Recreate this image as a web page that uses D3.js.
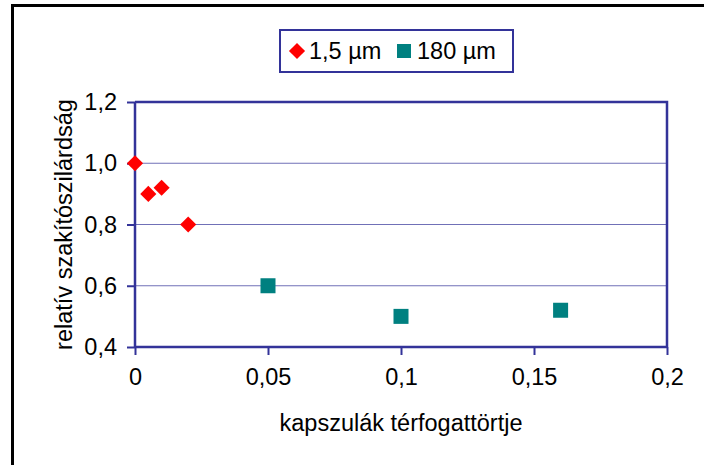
<!DOCTYPE html>
<meta charset="utf-8">
<style>
    body { margin: 0; background: #fff; }
    text { font-family: "Liberation Sans", Arial, sans-serif; fill: #000; }
</style>
<body>
<script src="https://d3js.org/d3.v7.min.js"></script>
<script>

// data
var fineX = [0, 0.005, 0.01, 0.02];
var fineY = [1.0, 0.9, 0.92, 0.8];
var coarseX = [0.05, 0.1, 0.16];
var coarseY = [0.6, 0.5, 0.52];
var seriesNames = ['1,5 µm', '180 µm'];
var xTicks = [0, 0.05, 0.1, 0.15, 0.2];
var yTicks = [0.4, 0.6, 0.8, 1.0, 1.2];
var xTitle = 'kapszulák térfogattörtje';
var yTitle = 'relatív szakítószilárdság';

var W = 704, H = 465;
var plot = {left: 135, right: 667, top: 102, bottom: 347};
var axisColor = '#333399';
var fontSize = 23.5;

var fmt = function(d) { return String(d).replace('.', ','); };
var fmtY = function(d) { return d3.format('.1f')(d).replace('.', ','); };

var svg = d3.select('body').append('svg')
    .attr('width', W)
    .attr('height', H);

// outer chart border (cut off on right and bottom)
svg.append('rect')
    .attr('x', 12.5).attr('y', 5.5)
    .attr('width', 720).attr('height', 480)
    .attr('fill', '#fff')
    .attr('stroke', '#000')
    .attr('stroke-width', 3);

var x = d3.scaleLinear().domain([0, 0.2]).range([plot.left, plot.right]);
var y = d3.scaleLinear().domain([0.4, 1.2]).range([plot.bottom, plot.top]);

// gridlines
svg.append('g')
    .selectAll('line')
    .data(yTicks.filter(function(d) { return d > 0.4 && d < 1.2; }))
    .enter().append('line')
    .attr('x1', plot.left).attr('x2', plot.right)
    .attr('y1', function(d) { return y(d); })
    .attr('y2', function(d) { return y(d); })
    .attr('stroke', axisColor)
    .attr('stroke-opacity', 0.7)
    .attr('stroke-width', 1.2);

// top and right edges of the plot area
svg.append('path')
    .attr('d', 'M' + plot.left + ',' + y(1.2) + 'H' + plot.right + 'V' + plot.bottom)
    .attr('fill', 'none')
    .attr('stroke', axisColor)
    .attr('stroke-width', 2.5);

// x axis
var xAxis = d3.axisBottom(x).tickValues(xTicks).tickSize(8).tickPadding(13).tickFormat(fmt);
var gx = svg.append('g')
    .attr('transform', 'translate(0,' + plot.bottom + ')')
    .call(xAxis);
gx.select('.domain').attr('stroke', axisColor).attr('stroke-width', 2.5)
    .attr('d', 'M' + plot.left + ',0H' + plot.right);
gx.selectAll('.tick line').attr('stroke', axisColor).attr('stroke-width', 2);
gx.selectAll('.tick text')
    .style('font-size', fontSize + 'px')
    .style('font-family', '"Liberation Sans", Arial, sans-serif')
    .attr('fill', '#000');

// y axis
var yAxis = d3.axisLeft(y).tickValues(yTicks).tickSize(8).tickPadding(10).tickFormat(fmtY);
var gy = svg.append('g')
    .attr('transform', 'translate(' + plot.left + ',0)')
    .call(yAxis);
gy.select('.domain').attr('stroke', axisColor).attr('stroke-width', 2.5)
    .attr('d', 'M0,' + plot.top + 'V' + plot.bottom);
gy.selectAll('.tick line').attr('stroke', axisColor).attr('stroke-width', 2);
gy.selectAll('.tick text')
    .style('font-size', fontSize + 'px')
    .style('font-family', '"Liberation Sans", Arial, sans-serif')
    .attr('fill', '#000');

// axis titles
svg.append('text')
    .attr('x', (plot.left + plot.right) / 2)
    .attr('y', 431)
    .attr('text-anchor', 'middle')
    .style('font-size', fontSize + 'px')
    .text(xTitle);

svg.append('text')
    .attr('transform', 'translate(72,' + (plot.top + plot.bottom) / 2 + ') rotate(-90)')
    .attr('text-anchor', 'middle')
    .style('font-size', fontSize + 'px')
    .text(yTitle);

// markers
var diamond = d3.symbol().type(d3.symbolSquare).size(130);
svg.append('g')
    .selectAll('path')
    .data(d3.zip(fineX, fineY))
    .enter().append('path')
    .attr('d', diamond)
    .attr('transform', function(d) { return 'translate(' + x(d[0]) + ',' + y(d[1]) + ') rotate(45)'; })
    .attr('fill', '#ff0000');

svg.append('g')
    .selectAll('rect')
    .data(d3.zip(coarseX, coarseY))
    .enter().append('rect')
    .attr('x', function(d) { return x(d[0]) - 7.5; })
    .attr('y', function(d) { return y(d[1]) - 7.5; })
    .attr('width', 15).attr('height', 15)
    .attr('fill', '#008080');

// legend
var legend = svg.append('g');
legend.append('rect')
    .attr('x', 280).attr('y', 30)
    .attr('width', 233).attr('height', 42)
    .attr('fill', '#fff')
    .attr('stroke', axisColor)
    .attr('stroke-width', 2);
legend.append('path')
    .attr('d', diamond)
    .attr('transform', 'translate(297,51) rotate(45)')
    .attr('fill', '#ff0000');
legend.append('text')
    .attr('x', 309).attr('y', 59)
    .style('font-size', fontSize + 'px')
    .text(seriesNames[0]);
legend.append('rect')
    .attr('x', 397).attr('y', 44)
    .attr('width', 14).attr('height', 14)
    .attr('fill', '#008080');
legend.append('text')
    .attr('x', 417).attr('y', 59)
    .style('font-size', fontSize + 'px')
    .text(seriesNames[1]);

</script>
</body>
